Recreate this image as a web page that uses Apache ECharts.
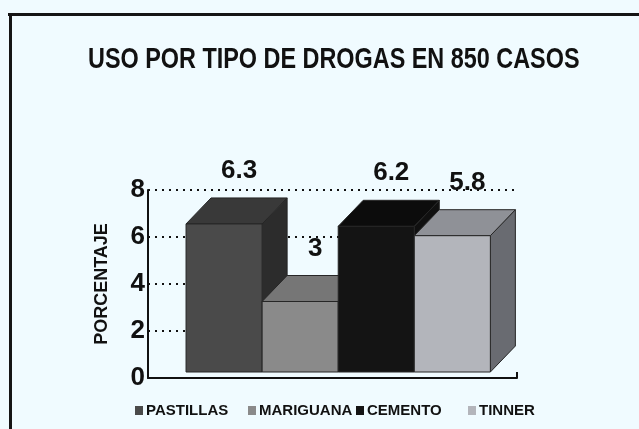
<!DOCTYPE html>
<html>
<head>
    <meta charset="utf-8">
    <title>Uso por tipo de drogas</title>
    <script src="https://cdn.jsdelivr.net/npm/echarts@6/dist/echarts.min.js"></script>
    <style>
        html, body { margin: 0; padding: 0; background: #f0fbff; }
        #main { width: 639px; height: 429px; }
    </style>
</head>
<body>
    <div id="main"></div>
    <script type="text/javascript">
        // datos
        var categorias = ['PASTILLAS', 'MARIGUANA', 'CEMENTO', 'TINNER'];
        var valores = [6.3, 3, 6.2, 5.8];
        var etiquetas = ['6.3', '3', '6.2', '5.8'];
        var ejeY = [0, 2, 4, 6, 8];
        var titulo = 'USO POR TIPO DE DROGAS EN 850 CASOS';

        // estilos (frente, techo, costado)
        var colores = [
            ['#4a4a4a', '#393939', '#2c2c2c'],
            ['#8a8a8a', '#767676', '#575757'],
            ['#141414', '#0c0c0c', '#101010'],
            ['#b3b5bb', '#8f9197', '#696b71']
        ];
        var legendaX = [130, 243, 351, 463];
        var DX = 25, DY = 26, ALZA = 6;
        var FUENTE = '"Liberation Sans", Arial, sans-serif';

        function barra3d(params, api) {
            var i = api.value(0), v = api.value(1);
            var base = api.coord([i, 0]);
            var tope = api.coord([i, v]);
            var w = api.size([1, 0])[0];
            var x0 = base[0] - w / 2, x1 = base[0] + w / 2;
            var yb = base[1] - ALZA, yt = tope[1] - ALZA;
            var c = colores[params.seriesIndex];
            return {
                type: 'group',
                children: [
                    {
                        type: 'polygon',
                        shape: { points: [[x1, yb], [x1, yt], [x1 + DX, yt - DY], [x1 + DX, yb - DY]] },
                        style: { fill: c[2], stroke: '#262626', lineWidth: 1 }
                    },
                    {
                        type: 'polygon',
                        shape: { points: [[x0, yt], [x1, yt], [x1 + DX, yt - DY], [x0 + DX, yt - DY]] },
                        style: { fill: c[1], stroke: '#262626', lineWidth: 1 }
                    },
                    {
                        type: 'rect',
                        shape: { x: x0, y: yt, width: w, height: yb - yt },
                        style: { fill: c[0], stroke: '#262626', lineWidth: 1 }
                    },
                    {
                        type: 'text',
                        style: {
                            text: etiquetas[params.seriesIndex],
                            x: base[0] + 15,
                            y: yt - DY - 27,
                            align: 'center',
                            verticalAlign: 'middle',
                            fill: '#111',
                            font: 'bold 26px ' + FUENTE
                        }
                    }
                ]
            };
        }

        var myChart = echarts.init(document.getElementById('main'));

        var series = [];
        var legendas = [];
        for (var i = 0; i < categorias.length; i++) {
            series.push({
                name: categorias[i],
                type: 'custom',
                renderItem: barra3d,
                itemStyle: { color: colores[i][0] },
                // eje x desplazado en 1 para que el minimo sea 0
                data: [[i + 1, valores[i]]]
            });
            legendas.push({
                data: [categorias[i]],
                left: legendaX[i],
                top: 398,
                icon: 'rect',
                itemWidth: 8,
                itemHeight: 9,
                itemGap: 0,
                textStyle: { fontFamily: FUENTE, fontWeight: 'bold', fontSize: 15, color: '#111', padding: [0, 0, 0, -2] }
            });
        }

        var option = {
            backgroundColor: '#f0fbff',
            animation: false,
            legend: legendas,
            grid: { left: 148, right: 122, top: 190, bottom: 51 },
            xAxis: {
                type: 'value',
                min: 0,
                max: 4.85,
                interval: 4.85,
                axisLine: { show: true, lineStyle: { color: '#111', width: 2 } },
                axisTick: { show: true, inside: true, length: 6, lineStyle: { color: '#111', width: 2 } },
                axisLabel: { show: false },
                splitLine: { show: false }
            },
            yAxis: {
                type: 'value',
                min: ejeY[0],
                max: ejeY[ejeY.length - 1],
                interval: ejeY[1] - ejeY[0],
                name: 'PORCENTAJE',
                nameLocation: 'middle',
                nameGap: 37,
                nameTextStyle: { fontFamily: FUENTE, fontWeight: 'bold', fontSize: 18, color: '#111' },
                axisLine: { show: true, lineStyle: { color: '#111', width: 2 } },
                axisTick: { show: false },
                axisLabel: {
                    margin: 3,
                    fontFamily: FUENTE,
                    fontWeight: 'bold',
                    fontSize: 26,
                    color: '#111'
                },
                splitLine: { show: true, lineStyle: { color: '#111', type: [2, 5], width: 2 } }
            },
            graphic: [
                { type: 'rect', shape: { x: 8, y: 13, width: 631, height: 3 }, style: { fill: '#151515' } },
                { type: 'rect', shape: { x: 9, y: 13, width: 3, height: 416 }, style: { fill: '#151515' } },
                {
                    type: 'text',
                    x: 88,
                    y: 45,
                    scaleX: 0.78,
                    style: { text: titulo, fill: '#111', font: 'bold 30px ' + FUENTE }
                }
            ],
            series: series
        };

        myChart.setOption(option);
    </script>
</body>
</html>
